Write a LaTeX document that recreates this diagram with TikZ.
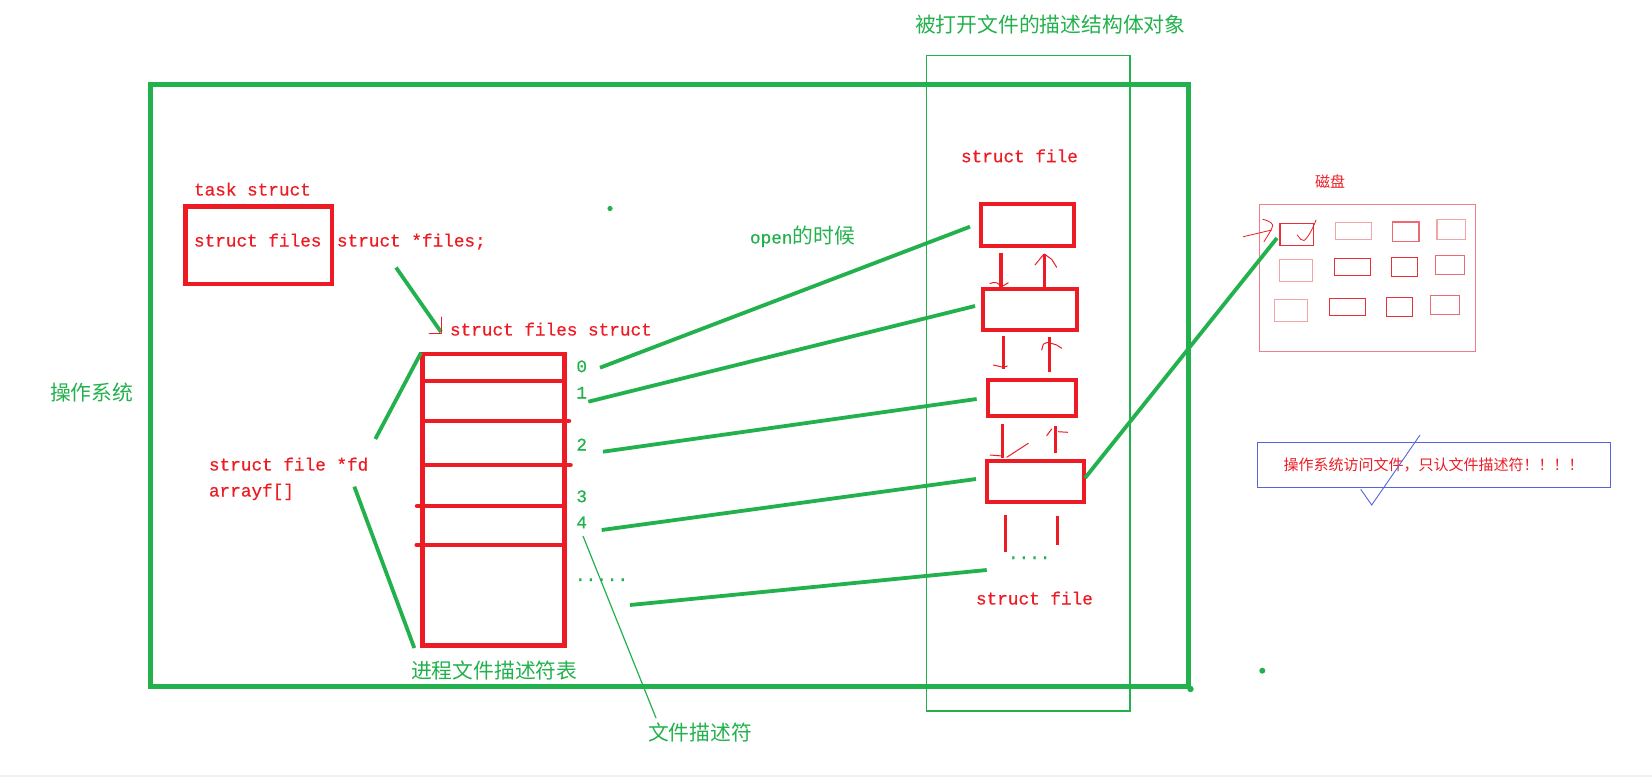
\documentclass[tikz,border=0pt]{standalone}
\usepackage{fontspec}
\newfontfamily\cjk{Noto Sans CJK SC}
\newfontfamily\lmono[FakeBold=0.6]{Liberation Mono}
\usetikzlibrary{calc}
\definecolor{pred}{HTML}{ED1C24}
\definecolor{pgreen}{HTML}{22B14C}
\definecolor{diskred}{HTML}{E8303A}
\definecolor{diskmid}{HTML}{EE6A72}
\definecolor{diskpink}{HTML}{F4A3A8}
\definecolor{diskedge}{HTML}{EE7F86}
\definecolor{pblue}{HTML}{5563DC}
\definecolor{barg}{HTML}{F0F0F0}
\begin{document}
\begin{tikzpicture}[x=1pt,y=-1pt,
  every node/.style={inner sep=0pt,outer sep=0pt},
  lat/.style={font=\lmono\fontsize{17.7}{20}\selectfont, text height=11pt, text depth=0pt, anchor=west},
  latred/.style={lat,text=pred},
  latgreen/.style={lat,text=pgreen},
  han/.style={font=\cjk\fontsize{20.8}{24}\selectfont, text height=15pt, text depth=0pt, anchor=west, text=pgreen},
  digit/.style={font=\lmono\fontsize{17.7}{20}\selectfont, text height=11pt, text depth=0pt, text=pgreen},
  redbox/.style={draw=pred, line width=4pt},
  rline/.style={draw=pred, line width=4.5pt, line cap=round},
  gconn/.style={draw=pgreen, line width=3.8pt},
  gthin/.style={draw=pgreen, line width=1.2pt},
  rshaft/.style={draw=pred, line width=3.5pt},
  rtip/.style={draw=pred, line width=1pt, line cap=round, line join=round},
  dsk/.style={draw=#1, line width=1.1pt},
]
\useasboundingbox (0,0) rectangle (1652,777);
\fill[barg] (0,775) rectangle (1652,777);

% frames
\draw[pgreen, line width=1.3pt] (926.7,55.7) rectangle (1130,711);
\draw[pgreen, line width=5pt] (150.5,84) rectangle (1188.3,686.3);
\fill[pgreen] (1190.5,689) circle (3.2);
\fill[pgreen] (610,208.5) circle (2.6);
\fill[pgreen] (1262.3,670.7) circle (3);

% titles
\node[han] (title) at (915,25) {被打开文件的描述结构体对象};
\node[han] (os) at (50,393) {操作系统};
\node[han] (tbllbl) at (411,670.7) {进程文件描述符表};
\node[han] (fdlbl) at (648,733) {文件描述符};
\node[han] (open) at (750,236) {{\lmono\fontsize{17.7}{20}\selectfont open}的时候};

% task struct
\node[latred] (task) at (194,190) {task struct};
\node[redbox, line width=4.5pt, minimum width=146.5pt, minimum height=77.5pt] (tbox) at (258.5,245) {};
\node[latred] (sf) at (194,241) {struct files};
\node[latred] (sfp) at (337,241) {struct *files;};
\node[latred] (sfs) at (450,330) {struct files struct};
\draw[gconn] ($(sfp.south west)+(59,21)$) -- ($(sfs.west)+(-9,2)$);
\draw[rtip] (441,317) -- (441,333) -- (429,333);

% fd table
\node[redbox, line width=4.5pt, minimum width=142.2pt, minimum height=291.7pt] (tbl) at (493.4,499.85) {};
\draw[rline] (422.3,381) -- (564.5,381);
\draw[rline] (422.3,421) -- (569,421);
\draw[rline] (422.3,465) -- (570.5,465);
\draw[rline] (417,506) -- (564.5,506);
\draw[rline] (416.7,545) -- (564.5,545);

\node[latred] (fd) at (209,465) {struct file *fd};
\node[latred] (arr) at (209,491) {arrayf[]};
\draw[gconn] ($(fd.east)+(7,-26)$) -- ($(tbl.north west)+(-1.3,-1.3)$);
\draw[gconn] ($(fd.east)+(-14,21.7)$) -- ($(tbl.south west)+(-8,2.3)$);

\node[digit] (n0) at (581.7,366.7) {0};
\node[digit] (n1) at (581.7,393) {1};
\node[digit] (n2) at (581.7,445) {2};
\node[digit] (n3) at (581.7,496.7) {3};
\node[digit] (n4) at (581.7,522.7) {4};
\node[latgreen, anchor=base west] (dots1) at (575,581) {.....};
\coordinate (d5) at (630,605);

% struct file column
\node[latred] (sft) at (961,156.7) {struct file};
\node[latred] (sfb) at (976,599) {struct file};
\node[redbox, minimum width=93pt, minimum height=42pt] (f1) at (1027,225.3) {};
\node[redbox, minimum width=93.7pt, minimum height=41pt] (f2) at (1030.2,309.8) {};
\node[redbox, minimum width=88pt, minimum height=36pt] (f3) at (1032,398.3) {};
\node[redbox, minimum width=96.4pt, minimum height=41pt] (f4) at (1035.5,481.8) {};
\node[latgreen, anchor=base west] (dots2) at (1008,559) {....};
\coordinate (e5) at (986.7,570);

% number -> file connectors
\draw[gconn] ($(n0)+(18.3,1)$) -- ($(f1.west)+(-10.5,1.4)$);
\draw[gconn] ($(n1)+(6.6,8.7)$) -- ($(f2.west)+(-8.35,-3.8)$);
\draw[gconn] ($(n2)+(21.3,6.7)$) -- ($(f3.west)+(-11.3,0.7)$);
\draw[gconn] ($(n4)+(20,7.3)$) -- ($(f4.west)+(-11.3,-2.8)$);
\draw[gconn] (d5) -- (e5);
\draw[gthin] ($(n4)+(1.3,13.3)$) -- ($(fdlbl.north west)+(8,-7.5)$);

% shafts between files
\draw[rshaft] ($(f1.south)+(-26,6.7)$) -- ($(f2.north)+(-29.2,-2.3)$);
\draw[rshaft] ($(f2.north)+(14.1,-2.3)$) -- ($(f1.south)+(17.3,7.7)$);
\draw[rshaft] ($(f2.south)+(-26.9,5.7)$) -- ($(f3.north)+(-28.7,-11)$);
\draw[rshaft] ($(f3.north)+(17.3,-8.6)$) -- ($(f2.south)+(19.1,7)$);
\draw[rshaft] ($(f3.south)+(-29.7,7.7)$) -- ($(f4.north)+(-33.2,-3)$);
\draw[rshaft] ($(f4.north)+(19.8,-8)$) -- ($(f3.south)+(23.3,9.4)$);
\draw[rshaft] ($(f4.south)+(-30.2,12.7)$) -- ($(f4.south)+(-30.2,49.4)$);
\draw[rshaft] ($(f4.south)+(22,13.7)$) -- ($(f4.south)+(22,42.7)$);
% hand-drawn tips
\draw[rtip] (990,283.5) .. controls (995,281) and (999,283) .. (1001,287);
\draw[rtip] (1001,287) -- (1008.3,282.7);
\draw[rtip] (1035,265) -- (1041.7,256.7) -- (1044.3,254) -- (1051.7,259.3) -- (1056.7,267.3);
\draw[rtip] (993.3,365) -- (1003.3,367.3) -- (1007.3,366);
\draw[rtip] (1041.7,350) -- (1043.3,344.3) .. controls (1045,342.5) and (1047,342.5) .. (1049.3,342.7) -- (1056.7,345) -- (1061.7,348.3);
\draw[rtip] (990,455) -- (1002.7,456);
\draw[rtip] (1006.7,457.3) -- (1028.3,443.3);
\draw[rtip] (1046.7,435.7) -- (1051.7,429);
\draw[rtip] (1058.3,431.7) -- (1067.7,432.3);

% disk
\node[han, text=pred, font=\cjk\fontsize{15}{18}\selectfont, text height=11pt] (disklbl) at (1315,181.7) {磁盘};
\node[dsk=diskedge, minimum width=215.4pt, minimum height=146.4pt] (disk) at (1367.5,278) {};
\node[dsk=diskred, minimum width=33.7pt, minimum height=22pt] (r1) at (1296.85,234.3) {};
\draw[dsk=diskpink] (1335.3,222.7) rectangle (1371.7,239.3);
\draw[dsk=diskmid] (1392.3,222) rectangle (1419,241.3);
\draw[dsk=diskpink] (1437,219.3) rectangle (1465.7,239.3);
\draw[dsk=diskpink] (1279.3,259.3) rectangle (1312.7,281.3);
\draw[dsk=diskred] (1334.3,258.3) rectangle (1370.7,275.3);
\draw[dsk=diskred] (1391.3,257.7) rectangle (1417.7,276.7);
\draw[dsk=diskmid] (1435.3,255.3) rectangle (1464.7,274.3);
\draw[dsk=diskpink] (1274.3,299.3) rectangle (1307.7,321.3);
\draw[dsk=diskred] (1329.3,298.3) rectangle (1365.3,315.3);
\draw[dsk=diskred] (1386.3,297.3) rectangle (1412.7,316.3);
\draw[dsk=diskmid] (1430.3,295.3) rectangle (1459.7,314.3);
\draw[rtip, line width=0.8pt] (1297.3,235) .. controls (1300,239) and (1302,241) .. (1304,240.5) .. controls (1308,238) and (1313,228) .. (1316,220);
\draw[rtip, line width=0.8pt] (1243.3,236.7) -- (1271.7,230);
\draw[rtip, line width=0.8pt] (1262.7,219.3) .. controls (1270,221) and (1274,224) .. (1272.3,227) .. controls (1270,233) and (1266,238) .. (1264,241.7);
\draw[gconn] ($(f4.east)+(1.3,-3.8)$) -- ($(r1.west)+(-3,3.7)$);

% message box
\node[draw=pblue, line width=1.2pt, minimum width=353pt, minimum height=45pt,
      text=pred, font=\cjk\fontsize{15}{17}\selectfont] (msg) at (1433.7,465.3) {操作系统访问文件，只认文件描述符！！！！};
\draw[pblue, line width=0.9pt] (1420,435) -- (1371.7,505) -- (1360.7,489.3);
\end{tikzpicture}
\end{document}
